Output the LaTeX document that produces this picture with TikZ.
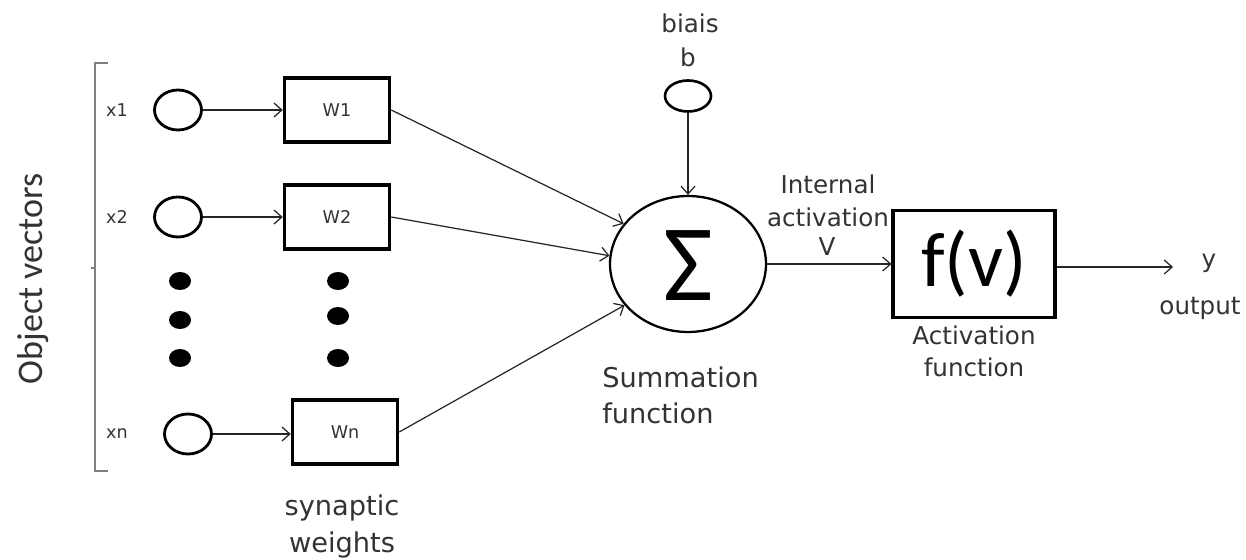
\documentclass[tikz,border=0pt]{standalone}
\usepackage{fontspec}
\setmainfont{DejaVu Sans}
\newfontfamily\carlito{Carlito}
\usetikzlibrary{shapes.geometric,arrows.meta}
\begin{document}
\begin{tikzpicture}[x=0.02cm,y=-0.02cm,
  >={Straight Barb[length=4.5pt,width=8pt]},
  txt/.style={text=black!80, inner sep=0pt},
  small/.style={txt, font=\fontsize{10pt}{12pt}\selectfont},
  mid/.style={txt, font=\fontsize{14pt}{16pt}\selectfont},
  big/.style={txt, font=\fontsize{15.5pt}{18pt}\selectfont},
  inputnode/.style={ellipse, draw, line width=1.6pt, minimum width=0.94cm, minimum height=0.8cm, inner sep=0pt},
  dotnode/.style={ellipse, fill=black, minimum width=0.44cm, minimum height=0.36cm, inner sep=0pt},
  weightbox/.style={rectangle, draw, line width=2pt, minimum width=2.1cm, minimum height=1.28cm, inner sep=0pt, font=\fontsize{10pt}{12pt}\selectfont, text=black!80},
  conn/.style={->, line width=0.7pt, draw=black!85},
]
\useasboundingbox[fill=white] (0,0) rectangle (1246,560);

% bracket grouping the input vector
\draw[black!50, line width=1pt] (108,63) -- (95,63) -- (95,471) -- (108,471);
\draw[black!50, line width=1pt] (95,268) -- (91,268);
\node[rotate=90, anchor=base, txt, font=\carlito\fontsize{20.5pt}{24pt}\selectfont] (objlabel) at (42,279) {Object vectors};

% inputs
\node[small] (lx1) at (117,110) {x1};
\node[small] (lx2) at (117,217) {x2};
\node[small] (lxn) at (117,434) {xn};
\node[inputnode] (x1) at (178,110) {};
\node[inputnode] (x2) at (178,217) {};
\node[inputnode] (xn) at (188,434) {};

% synaptic weights
\node[weightbox] (w1) at (337,110) {W1};
\node[weightbox] (w2) at (337,217) {W2};
\node[weightbox] (wn) at (345,432) {Wn};

% ellipsis dots
\node[dotnode] (d1) at (180,281) {};
\node[dotnode] (d2) at (180,320) {};
\node[dotnode] (d3) at (180,358) {};
\node[dotnode] (e1) at (338,281) {};
\node[dotnode] (e2) at (338,316) {};
\node[dotnode] (e3) at (338,358) {};

\node[big] (syn1) at (342,508) {synaptic};
\node[big] (syn2) at (342,545) {weights};

% summation unit
\node[ellipse, draw, line width=1.3pt, minimum width=3.12cm, minimum height=2.72cm, inner sep=0pt] (sigma) at (688,264) {};
\node[inner sep=0pt, font=\carlito\fontsize{62pt}{70pt}\selectfont] (sigsym) at (688,266) {Σ};
\node[txt, anchor=west, font=\fontsize{15.5pt}{18pt}\selectfont] (sum1) at (602,377) {Summation};
\node[txt, anchor=west, font=\fontsize{15.5pt}{18pt}\selectfont] (sum2) at (602,413) {function};

% bias
\node[mid] (biais) at (690,23) {biais};
\node[mid] (b) at (688,57) {b};
\node[ellipse, draw, line width=1.5pt, minimum width=0.92cm, minimum height=0.62cm, inner sep=0pt] (bias) at (688,96) {};

% activation
\node[mid] (int1) at (828,184) {Internal};
\node[mid] (int2) at (828,217) {activation};
\node[mid] (int3) at (827,247) {V};
\node[rectangle, draw, line width=1.8pt, minimum width=3.24cm, minimum height=2.14cm, inner sep=0pt, font=\carlito\fontsize{44pt}{50pt}\selectfont] (f) at (974,264) {f(v)};
\node[mid] (act1) at (974,335) {Activation};
\node[mid] (act2) at (974,367) {function};

% output
\coordinate (out) at (1173,267);
\node[mid] (y) at (1209,263) {y};
\node[mid] (outl) at (1200,308) {output};

% connectors
\draw[conn] (x1.east) -- (x1.east -| w1.west);
\draw[conn] (x2.east) -- (x2.east -| w2.west);
\draw[conn] (xn.east) -- (xn.east -| wn.west);
\draw[conn] (w1.east) -- (sigma.148);
\draw[conn] (w2.east) -- (sigma.174);
\draw[conn] (wn.east) -- (sigma.213);
\draw[conn] (bias.south) -- (sigma.north);
\draw[conn] (sigma.east) -- (sigma.east -| f.west);
\draw[conn] (f.east |- out) -- (out);
\end{tikzpicture}
\end{document}
